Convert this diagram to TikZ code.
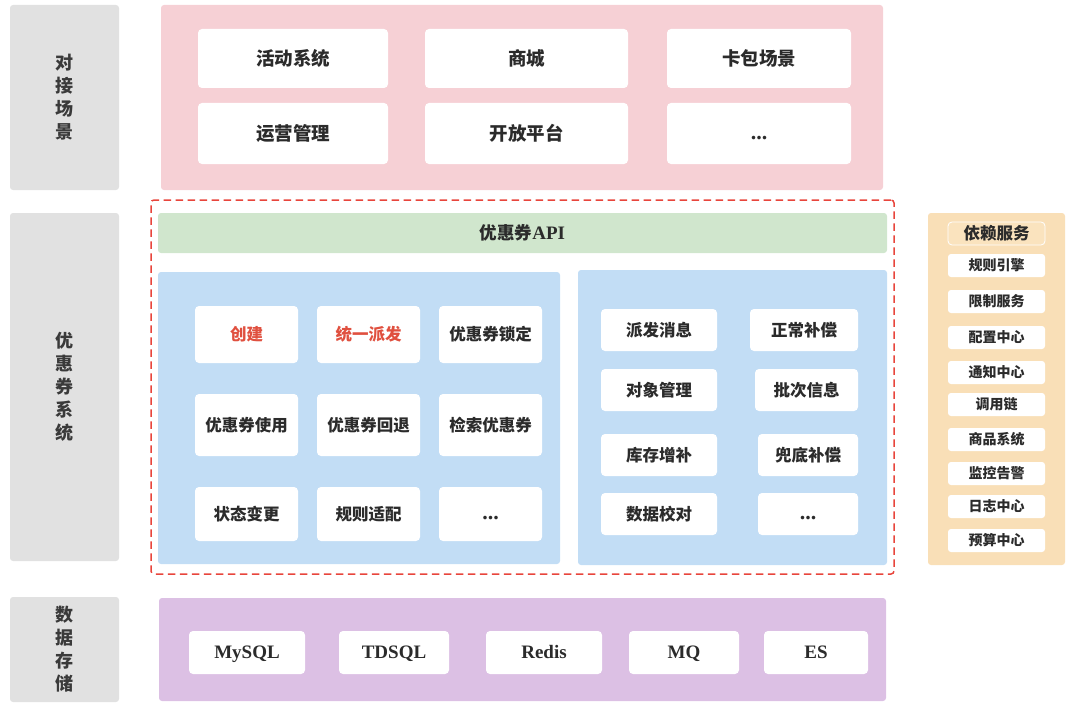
\documentclass[tikz,border=0pt]{standalone}
\usepackage{fontspec}
\setmainfont{Noto Sans CJK SC}
\newfontfamily\lat{Liberation Serif}
\definecolor{graybg}{HTML}{E1E1E1}
\definecolor{pinkbg}{HTML}{F6D0D5}
\definecolor{greenbg}{HTML}{D0E6CD}
\definecolor{bluebg}{HTML}{C2DDF5}
\definecolor{orangebg}{HTML}{F9DFB7}
\definecolor{orangehd}{HTML}{FAE3BE}
\definecolor{purplebg}{HTML}{DCC0E4}
\definecolor{reddash}{HTML}{E8453C}
\definecolor{redtxt}{HTML}{E0503F}
\definecolor{txt}{HTML}{2B2B2B}
\definecolor{lbltxt}{HTML}{3A3A3A}
\newcommand\boxat[7]{\node[#1, minimum width={#5pt-#3pt}, minimum height={#6pt-#4pt}] (#2) at ({(#3+#5)/2},{(#4+#6)/2}) {#7};}
\newcommand\dotsx{\vphantom{汉}\raisebox{1pt}{\lat\bfseries\fontsize{22}{22}\selectfont...}}
\tikzset{
  base/.style={inner sep=0pt, outer sep=0pt, rounded corners=3pt},
  panel/.style={base},
  lblpanel/.style={base, fill=graybg, text=lbltxt, align=center, font=\fontsize{18}{23}\selectfont\bfseries},
  wbox/.style={base, fill=white, rounded corners=4pt, text=txt, font=\fontsize{18.5}{20}\selectfont\bfseries},
  sbox/.style={base, fill=white, rounded corners=4pt, text=txt, font=\fontsize{16.5}{19}\selectfont\bfseries},
  dbox/.style={base, fill=white, rounded corners=3pt, text=txt, font=\fontsize{14}{15}\selectfont\bfseries},
  dbbox/.style={base, fill=white, rounded corners=4pt, text=txt, text height=12.5pt, text depth=0pt, font=\fontsize{19}{20}\selectfont\bfseries\lat},
  redt/.style={text=redtxt},
}
\begin{document}
\begin{tikzpicture}[x=1pt,y=-1pt]
\useasboundingbox (0,0) rectangle (1080,709);
% left labels
\boxat{lblpanel}{l1}{10}{5}{119}{190}{对\\接\\场\\景}
\boxat{lblpanel}{l2}{10}{213}{119}{561}{优\\惠\\券\\系\\统}
\boxat{lblpanel}{l3}{10}{597}{119}{702}{数\\据\\存\\储}
% top pink panel
\boxat{panel, fill=pinkbg}{pink}{161}{5}{883}{190}{}
\boxat{wbox}{p1}{198}{29}{388}{88}{活动系统}
\boxat{wbox}{p2}{425}{29}{628}{88}{商城}
\boxat{wbox}{p3}{667}{29}{851}{88}{卡包场景}
\boxat{wbox}{p4}{198}{103}{388}{164}{运营管理}
\boxat{wbox}{p5}{425}{103}{628}{164}{开放平台}
\boxat{wbox}{p6}{667}{103}{851}{164}{\dotsx}
% dashed system frame
\boxat{base, draw=reddash, line width=1.5pt, dash pattern=on 7.5pt off 4.5pt}{sys}{151}{200}{894}{574}{}
% API bar
\boxat{panel, fill=greenbg, text=txt, font=\fontsize{17.5}{20}\selectfont\bfseries}{api}{158}{213}{887}{253}{优惠券{\lat\fontsize{19}{20}\selectfont API}}
% left blue panel
\boxat{panel, fill=bluebg}{bl}{158}{272}{560}{564}{}
\boxat{sbox, redt}{c1}{195}{306}{298}{363}{创建}
\boxat{sbox, redt}{c2}{317}{306}{420}{363}{统一派发}
\boxat{sbox}{c3}{439}{306}{542}{363}{优惠券锁定}
\boxat{sbox}{c4}{195}{394}{298}{456}{优惠券使用}
\boxat{sbox}{c5}{317}{394}{420}{456}{优惠券回退}
\boxat{sbox}{c6}{439}{394}{542}{456}{检索优惠券}
\boxat{sbox}{c7}{195}{487}{298}{541}{状态变更}
\boxat{sbox}{c8}{317}{487}{420}{541}{规则适配}
\boxat{sbox}{c9}{439}{487}{542}{541}{\dotsx}
% right blue panel
\boxat{panel, fill=bluebg}{br}{578}{270}{887}{565}{}
\boxat{sbox}{r1}{601}{309}{717}{351}{派发消息}
\boxat{sbox}{r2}{750}{309}{858}{351}{正常补偿}
\boxat{sbox}{r3}{601}{369}{717}{411}{对象管理}
\boxat{sbox}{r4}{755}{369}{858}{411}{批次信息}
\boxat{sbox}{r5}{601}{434}{717}{476}{库存增补}
\boxat{sbox}{r6}{758}{434}{858}{476}{兜底补偿}
\boxat{sbox}{r7}{601}{493}{717}{535}{数据校对}
\boxat{sbox}{r8}{758}{493}{858}{535}{\dotsx}
% dependency panel
\boxat{panel, fill=orangebg}{dep}{928}{213}{1065}{565}{}
\boxat{base, fill=orangehd, draw=white, line width=0.8pt, rounded corners=4pt, text=txt, font=\fontsize{16.5}{19}\selectfont\bfseries}{dh}{948}{222}{1045}{245}{依赖服务}
\boxat{dbox}{d1}{948}{254}{1045}{277}{规则引擎}
\boxat{dbox}{d2}{948}{290}{1045}{313}{限制服务}
\boxat{dbox}{d3}{948}{326}{1045}{349}{配置中心}
\boxat{dbox}{d4}{948}{361}{1045}{384}{通知中心}
\boxat{dbox}{d5}{948}{393}{1045}{416}{调用链}
\boxat{dbox}{d6}{948}{428}{1045}{451}{商品系统}
\boxat{dbox}{d7}{948}{462}{1045}{485}{监控告警}
\boxat{dbox}{d8}{948}{495}{1045}{518}{日志中心}
\boxat{dbox}{d9}{948}{529}{1045}{552}{预算中心}
% data storage panel
\boxat{panel, fill=purplebg}{pur}{159}{598}{886}{701}{}
\boxat{dbbox}{s1}{189}{631}{305}{674}{MySQL}
\boxat{dbbox}{s2}{339}{631}{449}{674}{TDSQL}
\boxat{dbbox}{s3}{486}{631}{602}{674}{Redis}
\boxat{dbbox}{s4}{629}{631}{739}{674}{MQ}
\boxat{dbbox}{s5}{764}{631}{868}{674}{ES}
\end{tikzpicture}
\end{document}
